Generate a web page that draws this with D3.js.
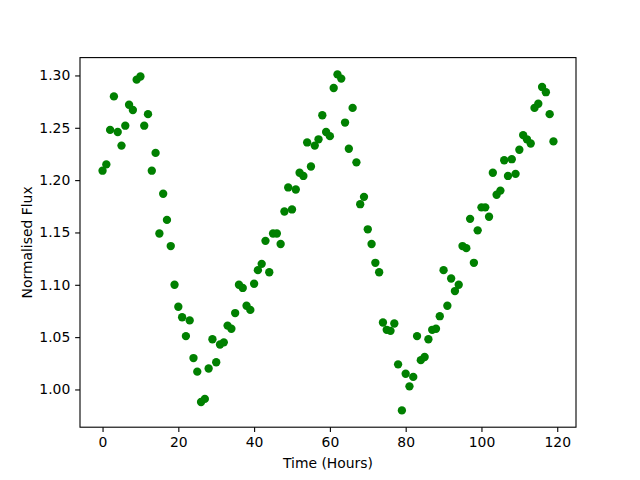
<!DOCTYPE html>
<html>
<head>
<meta charset="utf-8">
<script src="https://cdn.jsdelivr.net/npm/d3@7"></script>
<style>
  body { margin: 0; background: #fff; }
  text { font-family: "DejaVu Sans", sans-serif; }
</style>
</head>
<body>
<div id="chart"></div>
<script>
// hours since start of observation
const hours = d3.range(0, 120);

// normalised flux, one reading per hour
const flux = [
  1.209, 1.215, 1.248, 1.280, 1.246, 1.233, 1.252, 1.272, 1.267, 1.296,
  1.299, 1.252, 1.263, 1.209, 1.226, 1.149, 1.187, 1.162, 1.137, 1.100,
  1.079, 1.069, 1.051, 1.066, 1.030, 1.017, 0.988, 0.991, 1.020, 1.048,
  1.026, 1.043, 1.045, 1.061, 1.058, 1.073, 1.100, 1.097, 1.080, 1.076,
  1.101, 1.114, 1.120, 1.142, 1.112, 1.149, 1.149, 1.139, 1.170, 1.193,
  1.172, 1.191, 1.207, 1.204, 1.236, 1.213, 1.233, 1.239, 1.262, 1.246,
  1.242, 1.288, 1.301, 1.297, 1.255, 1.230, 1.269, 1.217, 1.177, 1.184,
  1.153, 1.139, 1.121, 1.112, 1.064, 1.057, 1.056, 1.063, 1.024, 0.980,
  1.015, 1.003, 1.012, 1.051, 1.028, 1.031, 1.048, 1.057, 1.058, 1.070,
  1.114, 1.080, 1.106, 1.094, 1.100, 1.137, 1.135, 1.163, 1.121, 1.152,
  1.174, 1.174, 1.165, 1.207, 1.186, 1.190, 1.219, 1.204, 1.220, 1.206,
  1.229, 1.243, 1.239, 1.235, 1.269, 1.273, 1.289, 1.284, 1.263, 1.237
];

const xTicks = [0, 20, 40, 60, 80, 100, 120];
const yTicks = [1.00, 1.05, 1.10, 1.15, 1.20, 1.25, 1.30];

const W = 640, H = 480;
const margin = { top: 57.6, right: 64, bottom: 52.8, left: 80 };
const width = W - margin.left - margin.right;
const height = H - margin.top - margin.bottom;

const points = hours.map((h, i) => ({ x: h, y: flux[i] }));

// matplotlib style 5% padding around the data
function padded(ext) {
  const p = (ext[1] - ext[0]) * 0.05;
  return [ext[0] - p, ext[1] + p];
}

const x = d3.scaleLinear().domain(padded(d3.extent(hours))).range([0, width]);
const y = d3.scaleLinear().domain(padded(d3.extent(flux))).range([height, 0]);

const svg = d3.select('#chart')
  .append('svg')
  .attr('width', W)
  .attr('height', H);

const g = svg.append('g')
  .attr('transform', `translate(${margin.left},${margin.top})`);

const tickLen = 4.86;

const xAxis = g.append('g')
  .attr('transform', `translate(0,${height})`)
  .call(d3.axisBottom(x).tickValues(xTicks).tickFormat(d3.format('d'))
    .tickSize(tickLen).tickSizeOuter(0).tickPadding(4.9));

const yAxis = g.append('g')
  .call(d3.axisLeft(y).tickValues(yTicks).tickFormat(d3.format('.2f'))
    .tickSize(tickLen).tickSizeOuter(0).tickPadding(4.9));

[xAxis, yAxis].forEach(a => {
  a.select('.domain').remove();
  a.selectAll('.tick line').attr('stroke', '#000').attr('stroke-width', 1.1);
  a.selectAll('.tick text').attr('fill', '#000').style('font-size', '13.9px');
});

g.append('g')
  .selectAll('circle')
  .data(points)
  .join('circle')
  .attr('cx', d => x(d.x))
  .attr('cy', d => y(d.y))
  .attr('r', 4.17)
  .attr('fill', '#008000');

g.append('rect')
  .attr('width', width)
  .attr('height', height)
  .attr('fill', 'none')
  .attr('stroke', '#000')
  .attr('stroke-width', 1.1);

svg.append('text')
  .attr('x', margin.left + width / 2)
  .attr('y', 468)
  .attr('text-anchor', 'middle')
  .style('font-size', '13.9px')
  .text('Time (Hours)');

svg.append('text')
  .attr('transform', `translate(32,${margin.top + height / 2}) rotate(-90)`)
  .attr('text-anchor', 'middle')
  .style('font-size', '13.9px')
  .text('Normalised Flux');
</script>
</body>
</html>
